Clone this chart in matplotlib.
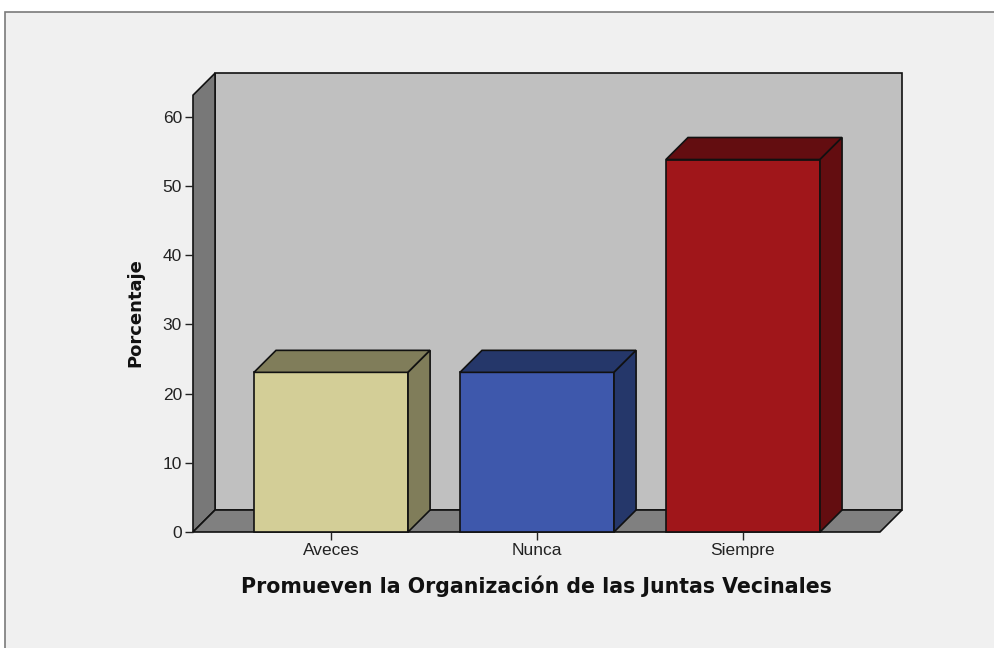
import matplotlib.pyplot as plt
from matplotlib.patches import Polygon, Rectangle

# data (percent)
categorias = ['Aveces', 'Nunca', 'Siempre']
porcentaje = [23.08, 23.08, 53.85]
color_frente = ['#D3CE97', '#3E58AC', '#A0161A']
color_lado = ['#807D5A', '#25376A', '#630D10']
yticks = [0, 10, 20, 30, 40, 50, 60]

plt.rcParams['font.family'] = ['Liberation Sans', 'DejaVu Sans']

fig = plt.figure(figsize=(9.95, 6.48), dpi=100)
fig.patch.set_facecolor('white')
# grey frame like the SPSS viewer
fig.patches.append(Rectangle((5 / 995, -0.01), 1.0, (648 - 12) / 648 + 0.01,
                             transform=fig.transFigure, facecolor='#F0F0F0',
                             edgecolor='#7a7a7a', linewidth=1.2, zorder=-10))

ax = fig.add_axes([193 / 995, (648 - 532) / 648, 709 / 995, 460 / 648])
ax.set_facecolor('none')
ax.set_xlim(-0.670, 2.772)
ax.set_ylim(0, 66.5)

dx = 0.107   # 3D depth offset in x
dy = 3.18    # 3D depth offset in y
x0, x1 = -0.670, 2.665
ytop = 63.15
ec = '#111111'
lw = 1.2

# back wall, side wall, floor
ax.add_patch(Polygon([(x0 + dx, dy), (x1 + dx, dy), (x1 + dx, ytop + dy), (x0 + dx, ytop + dy)],
                     closed=True, facecolor='#C0C0C0', edgecolor=ec, lw=lw, clip_on=False))
ax.add_patch(Polygon([(x0, 0), (x0, ytop), (x0 + dx, ytop + dy), (x0 + dx, dy)],
                     closed=True, facecolor='#787878', edgecolor=ec, lw=lw, clip_on=False))
ax.add_patch(Polygon([(x0, 0), (x1, 0), (x1 + dx, dy), (x0 + dx, dy)],
                     closed=True, facecolor='#808080', edgecolor=ec, lw=lw, clip_on=False))

w = 0.748
for i, v in enumerate(porcentaje):
    l, r = i - w / 2, i + w / 2
    ax.add_patch(Polygon([(l, 0), (r, 0), (r, v), (l, v)], closed=True,
                         facecolor=color_frente[i], edgecolor=ec, lw=lw, clip_on=False))
    ax.add_patch(Polygon([(l, v), (r, v), (r + dx, v + dy), (l + dx, v + dy)], closed=True,
                         facecolor=color_lado[i], edgecolor=ec, lw=lw, clip_on=False))
    ax.add_patch(Polygon([(r, 0), (r + dx, dy), (r + dx, v + dy), (r, v)], closed=True,
                         facecolor=color_lado[i], edgecolor=ec, lw=lw, clip_on=False))

for s in ax.spines.values():
    s.set_visible(False)

ax.set_yticks(yticks)
ax.set_xticks(range(len(categorias)))
ax.set_xticklabels(categorias)
ax.tick_params(axis='both', length=6, width=1, color='#222222', labelsize=12.5,
               labelcolor='#222222', pad=2)

ax.set_xlabel('Promueven la Organización de las Juntas Vecinales', fontsize=14.8,
              fontweight='bold', color='#111111', family='DejaVu Sans')
ax.set_ylabel('Porcentaje', fontsize=13, fontweight='bold', color='#111111',
              family='DejaVu Sans')
ax.xaxis.set_label_coords(0.485, -0.095)
ax.yaxis.set_label_coords(-0.068, 0.476)

plt.savefig('out.png', dpi=100)
